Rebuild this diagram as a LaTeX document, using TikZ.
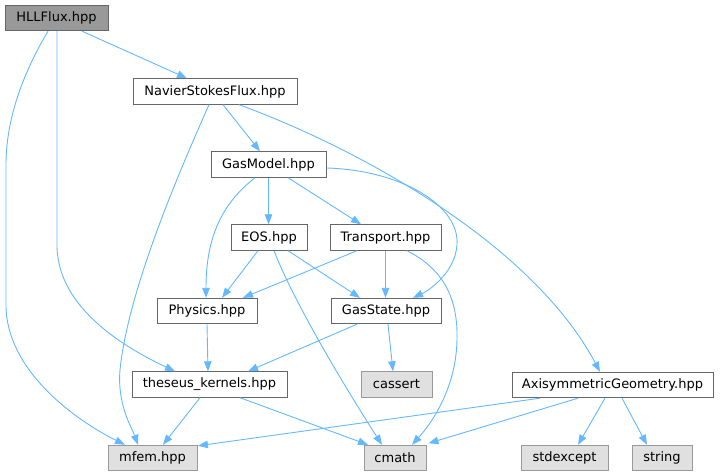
\documentclass[tikz,border=0pt]{standalone}
\usepackage{fontspec}
\setmainfont{DejaVu Sans}
\usetikzlibrary{arrows.meta,calc}
\definecolor{edgeblue}{HTML}{63B8FF}
\definecolor{boxborder}{HTML}{666666}
\definecolor{extborder}{HTML}{999999}
\definecolor{extfill}{HTML}{E0E0E0}
\definecolor{mainfill}{HTML}{999999}
\begin{document}
\begin{tikzpicture}[x=1pt,y=-1pt,
  box/.style={draw=boxborder,fill=white,line width=0.9pt,minimum height=25.5pt,inner sep=0pt,font=\fontsize{13}{15}\selectfont},
  mainbox/.style={box,fill=mainfill},
  extbox/.style={box,draw=extborder,fill=extfill},
  edge/.style={draw=edgeblue,line width=0.9pt,-{Triangle[length=10pt,width=7.5pt]}}]
\useasboundingbox (0,0) rectangle (721,476);
% nodes
\node[mainbox,minimum width=103pt] (HLL) at (56.5,18) {HLLFlux.hpp};
\node[box,minimum width=164pt] (NSF) at (215,91.5) {NavierStokesFlux.hpp};
\node[box,minimum width=115pt] (GM) at (268.5,164.5) {GasModel.hpp};
\node[box,minimum width=76pt] (EOS) at (269,237.5) {EOS.hpp};
\node[box,minimum width=111pt] (TR) at (385.5,237.5) {Transport.hpp};
\node[box,minimum width=100pt] (PH) at (207,311) {Physics.hpp};
\node[box,minimum width=110pt] (GS) at (386,311) {GasState.hpp};
\node[box,minimum width=155pt] (TK) at (209.5,384.5) {theseus\_kernels.hpp};
\node[extbox,minimum width=71pt] (CA) at (396.5,384.5) {cassert};
\node[box,minimum width=201pt] (AX) at (612.5,385) {AxisymmetricGeometry.hpp};
\node[extbox,minimum width=89pt] (MF) at (152.5,458) {mfem.hpp};
\node[extbox,minimum width=62pt] (CM) at (395,458) {cmath};
\node[extbox,minimum width=87pt] (SE) at (564.5,458) {stdexcept};
\node[extbox,minimum width=60pt] (ST) at (662,458) {string};
% edges
\draw[edge] ($(HLL.south)+(25.5,0)$) -- ($(NSF.north)+(-28,0)$);
\draw[edge] ($(HLL.south)+(-8.5,0)$) .. controls (22,75) and (6,120) .. (6,165) -- (6,305) .. controls (6,370) and (75,420) .. ($(MF.north)+(-27.5,0)$);
\draw[edge] ($(HLL.south)+(0.5,0)$) -- (57,245) .. controls (57,310) and (130,350) .. ($(TK.north)+(-34.5,0)$);
\draw[edge] ($(NSF.south)+(-6,0)$) .. controls (180,170) and (128,290) .. (120,370) .. controls (117,405) and (132,428) .. ($(MF.north)+(-14.5,0)$);
\draw[edge] ($(NSF.south)+(8,0)$) -- ($(GM.north)+(-8.5,0)$);
\draw[edge] ($(NSF.south)+(24,0)$) .. controls (350,145) and (530,240) .. ($(AX.north)+(-12.5,0)$);
\draw[edge] (GM.south) -- (GM.south |- EOS.north);
\draw[edge] ($(GM.south)+(19.5,0)$) -- ($(TR.north)+(-24.5,0)$);
\draw[edge] ($(GM.south)+(-13.5,0)$) .. controls (220,205) and (206,240) .. ($(PH.north)+(-1,0)$);
\draw[edge] ($(GM.east)+(0,3.5)$) .. controls (400,170) and (460,205) .. (457,245) .. controls (455,272) and (430,290) .. ($(GS.north)+(27,0)$);
\draw[edge] ($(EOS.south)+(-11,0)$) -- ($(PH.north)+(15,0)$);
\draw[edge] ($(EOS.south)+(19,0)$) -- ($(GS.north)+(-26,0)$);
\draw[edge] ($(EOS.south)+(5,0)$) .. controls (295,305) and (350,395) .. ($(CM.north)+(-13,0)$);
\draw[edge] ($(TR.south)+(-28.5,0)$) -- ($(PH.north)+(36,0)$);
\draw[edge] (TR.south) -- (TR.south |- GS.north);
\draw[edge] ($(TR.south)+(21.5,0)$) .. controls (445,270) and (458,300) .. (457,340) .. controls (456,390) and (430,425) .. ($(CM.north)+(17,0)$);
\draw[edge] (PH.south) -- ($(TK.north)+(-1.5,0)$);
\draw[edge] ($(GS.south)+(-29,0)$) -- ($(TK.north)+(38.5,0)$);
\draw[edge] ($(GS.south)+(2,0)$) -- ($(CA.north)+(-3.5,0)$);
\draw[edge] ($(TK.south)+(-9.5,0)$) -- ($(MF.north)+(10.5,0)$);
\draw[edge] ($(TK.south)+(30.5,0)$) -- ($(CM.north)+(-27,0)$);
\draw[edge] ($(AX.south)+(-72.5,0)$) -- ($(MF.north east)+(0.5,1)$);
\draw[edge] ($(AX.south)+(-34.5,0)$) -- ($(CM.north east)+(2,-1.5)$);
\draw[edge] ($(AX.south)+(-7.5,0)$) -- ($(SE.north)+(13.5,0)$);
\draw[edge] ($(AX.south)+(9.5,0)$) -- ($(ST.north)+(-15,0)$);
\end{tikzpicture}
\end{document}
